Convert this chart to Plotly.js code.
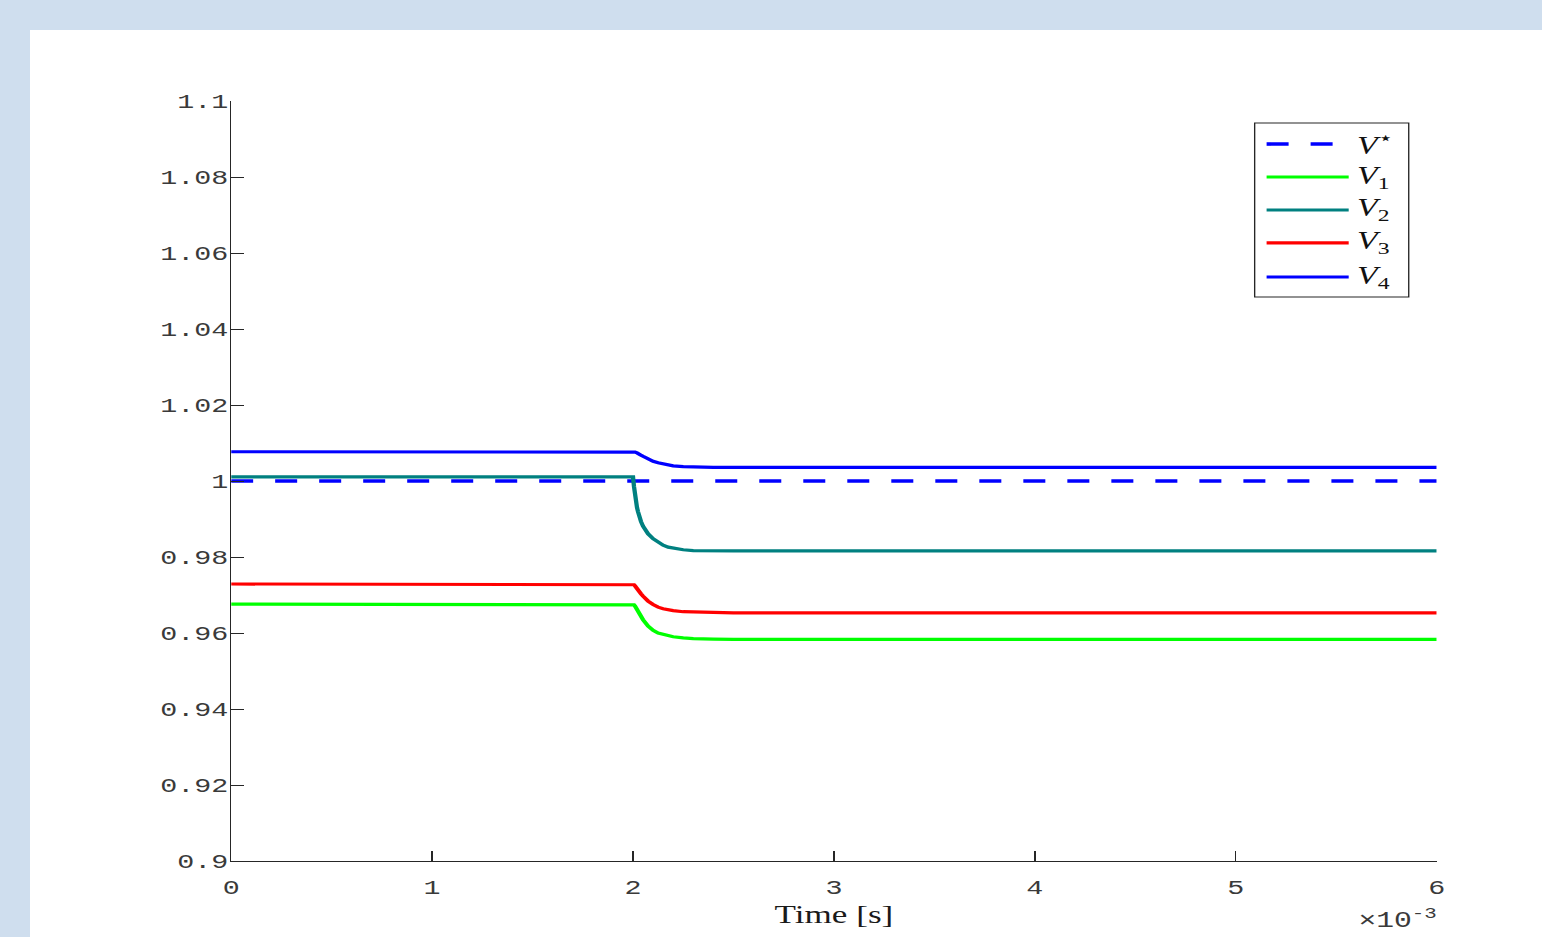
<!DOCTYPE html>
<html>
<head>
<meta charset="utf-8">
<script src="https://cdn.plot.ly/plotly-3.0.1.min.js"></script>
<style>
  html, body { margin:0; padding:0; background:#cfdeee; overflow:hidden; width:1542px; height:937px; }
  #plot { position:absolute; left:30px; top:30px; width:1120px; height:907px; transform:scaleX(1.35); transform-origin:0 0; background:#fff; }
</style>
</head>
<body>
<div id="plot"></div>
<script>
// Time in seconds
const time = [0, 0.002, 0.002005, 0.00201, 0.00202, 0.002025, 0.00203, 0.00204, 0.00205, 0.002075, 0.0021, 0.002125, 0.00215, 0.002175, 0.0022, 0.00225, 0.0023, 0.0024, 0.0025, 0.006];
const vRefTime = [0, 0.006];
const vRef = [1, 1];
const v1 = [0.9676, 0.9676, 0.9674, 0.9671, 0.9662, 0.9658, 0.9653, 0.9644, 0.9635, 0.9618, 0.9607, 0.9600, 0.9596, 0.9593, 0.9590, 0.9587, 0.9585, 0.9584, 0.9583, 0.9583];
const v2 = [1.0011, 1.0011, 0.9985, 0.9962, 0.9930, 0.9919, 0.9908, 0.9893, 0.9881, 0.9861, 0.9848, 0.9838, 0.9831, 0.9826, 0.9823, 0.9819, 0.9817, 0.9816, 0.9816, 0.9816];
const v3 = [0.9729, 0.9729, 0.9727, 0.9724, 0.9716, 0.9713, 0.9709, 0.9703, 0.9697, 0.9684, 0.9675, 0.9668, 0.9664, 0.9661, 0.9659, 0.9656, 0.9655, 0.9654, 0.9653, 0.9653];
const v4 = [1.0077, 1.0077, 1.0077, 1.0076, 1.0074, 1.0073, 1.0071, 1.0068, 1.0065, 1.0058, 1.0052, 1.0048, 1.0045, 1.0042, 1.0040, 1.0038, 1.0037, 1.0036, 1.0036, 1.0036];

const seriesNames = ["<i>V</i><sup>⋆</sup>", "<i>V</i><sub>1</sub>", "<i>V</i><sub>2</sub>", "<i>V</i><sub>3</sub>", "<i>V</i><sub>4</sub>"];
const seriesColors = ["#0000ff", "#00ff00", "#008080", "#ff0000", "#0000ff"];

const xTickVals = [0, 0.001, 0.002, 0.003, 0.004, 0.005, 0.006];
const xTickText = ["0", "1", "2", "3", "4", "5", "6"];
const yTickVals = [0.9, 0.92, 0.94, 0.96, 0.98, 1.0, 1.02, 1.04, 1.06, 1.08, 1.1];
const yTickText = ["0.9", "0.92", "0.94", "0.96", "0.98", "1", "1.02", "1.04", "1.06", "1.08", "1.1"];

const SX = 1.35; // horizontal stretch applied by CSS
const dashPat = (22 / SX).toFixed(2) + "px," + (22 / SX).toFixed(2) + "px";

const ys = [vRef, v1, v2, v3, v4];
const xs = [vRefTime, time, time, time, time];
const traces = ys.map((y, i) => ({
  x: xs[i], y: y, type: "scatter", mode: "lines", name: seriesNames[i],
  line: { color: seriesColors[i], width: i === 0 ? 3.6 : 3.2, dash: i === 0 ? dashPat : "solid" },
  showlegend: false, hoverinfo: "skip"
}));

const tickColor = "#262626";
const monoFont = { family: "Liberation Mono, Courier New, monospace", size: 21, color: "#3a3a3a" };

// custom legend (paper coords)
const legX0 = 0.849, legX1 = 0.9768, legY0 = 0.742, legY1 = 0.971;
const rowY = [0.9434, 0.9, 0.8566, 0.8132, 0.7684];
const shapes = [{
  type: "rect", xref: "paper", yref: "paper", x0: legX0, x1: legX1, y0: legY0, y1: legY1,
  line: { color: tickColor, width: 1 }, fillcolor: "#ffffff", layer: "above"
}];
const annotations = [];
seriesNames.forEach((n, i) => {
  shapes.push({
    type: "line", xref: "paper", yref: "paper", x0: 0.8589, x1: 0.927, y0: rowY[i], y1: rowY[i],
    line: { color: seriesColors[i], width: i === 0 ? 3.6 : 3.2, dash: i === 0 ? dashPat : "solid" }, layer: "above"
  });
  annotations.push({
    xref: "paper", yref: "paper", x: 0.9315, y: rowY[i], xanchor: "left", yanchor: "middle",
    text: n, showarrow: false, font: { family: "Liberation Serif, Times New Roman, serif", size: 25, color: "#111" }
  });
});
annotations.push({
  xref: "paper", yref: "paper", x: 1.0008, y: -0.097, xanchor: "right", yanchor: "bottom",
  text: "×10<sup>-3</sup>", showarrow: false, borderpad: 0,
  font: { family: "Liberation Mono, Courier New, monospace", size: 22, color: "#3a3a3a" }
});

const layout = {
  width: 1120, height: 907,
  margin: { l: 149, r: 78, t: 71, b: 76, pad: 0 },
  paper_bgcolor: "#ffffff", plot_bgcolor: "#ffffff",
  showlegend: false,
  xaxis: {
    range: [0, 0.006], tickvals: xTickVals, ticktext: xTickText,
    ticks: "inside", ticklen: 10, tickwidth: 1, tickcolor: tickColor,
    showline: true, linecolor: tickColor, linewidth: 1, showgrid: false, zeroline: false,
    tickfont: monoFont, ticklabelstandoff: 7,
    title: { text: "Time [s]", font: { family: "Liberation Serif, Times New Roman, serif", size: 26, color: "#1a1a1a" }, standoff: 5 }
  },
  yaxis: {
    range: [0.9, 1.1], tickvals: yTickVals, ticktext: yTickText,
    ticks: "inside", ticklen: 9.6, tickwidth: 1, tickcolor: tickColor,
    showline: true, linecolor: tickColor, linewidth: 1, showgrid: false, zeroline: false,
    tickfont: monoFont, ticklabelstandoff: -3
  },
  shapes: shapes,
  annotations: annotations
};

Plotly.newPlot("plot", traces, layout, { displayModeBar: false, staticPlot: true });
</script>
</body>
</html>
